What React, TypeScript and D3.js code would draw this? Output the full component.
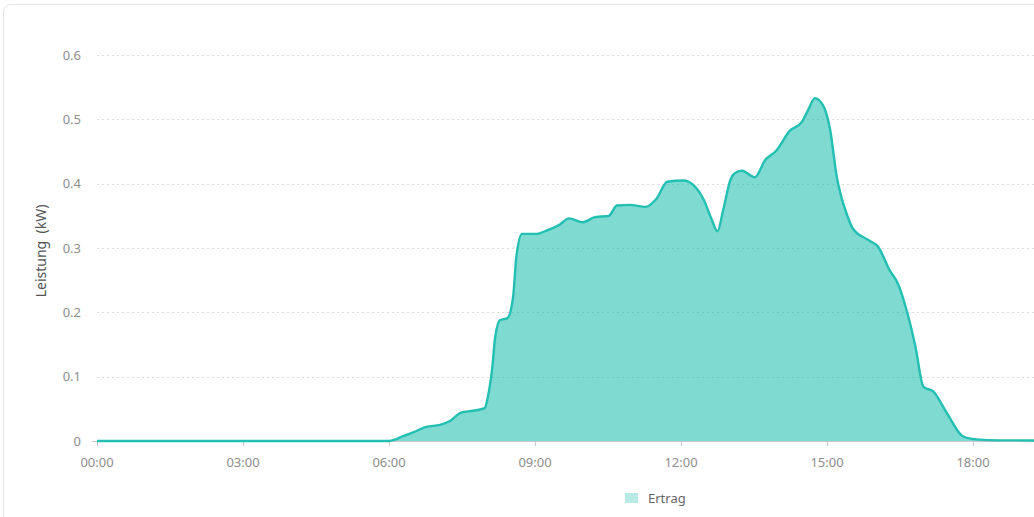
import React, { useEffect, useRef } from "react";
import * as d3 from "d3";

const times: string[] = [
  "00:00", "06:00", "06:07", "06:16", "06:29", "06:46", "07:03", "07:15", "07:29", "07:44",
  "07:58", "08:02", "08:07", "08:11", "08:17", "08:26", "08:33", "08:37", "08:44", "09:02",
  "09:14", "09:30", "09:42", "09:59", "10:14", "10:31", "10:41", "10:57", "11:16", "11:30",
  "11:43", "12:03", "12:15", "12:28", "12:38", "12:45", "12:52", "13:01", "13:06", "13:15",
  "13:31", "13:44", "13:58", "14:14", "14:29", "14:37", "14:45", "14:55", "15:04", "15:12",
  "15:18", "15:24", "15:32", "15:53", "16:03", "16:17", "16:28", "16:38", "16:49", "16:59",
  "17:11", "17:28", "17:48", "18:04", "18:33", "24:00",
];
const ertrag: number[] = [
  0, 0, 0.002, 0.007, 0.013, 0.022, 0.025, 0.031, 0.044, 0.047,
  0.051, 0.069, 0.11, 0.162, 0.188, 0.191, 0.224, 0.286, 0.322, 0.322,
  0.327, 0.336, 0.346, 0.34, 0.348, 0.35, 0.366, 0.367, 0.364, 0.377,
  0.403, 0.405, 0.398, 0.375, 0.344, 0.326, 0.359, 0.406, 0.416, 0.42,
  0.41, 0.437, 0.452, 0.482, 0.496, 0.515, 0.533, 0.522, 0.483, 0.411,
  0.378, 0.354, 0.33, 0.311, 0.302, 0.266, 0.243, 0.204, 0.147, 0.084,
  0.077, 0.043, 0.007, 0.0026, 0.001, 0,
];
const xTickLabels: string[] = ["00:00", "03:00", "06:00", "09:00", "12:00", "15:00", "18:00"];
const yTicks: number[] = [0, 0.1, 0.2, 0.3, 0.4, 0.5, 0.6];
const yTitle = "Leistung  (kW)";
const seriesName = "Ertrag";

const toHours = (s: string) => {
  const [h, m] = s.split(":").map(Number);
  return h + m / 60;
};

export default function App() {
  const ref = useRef<SVGSVGElement>(null);

  useEffect(() => {
    document.body.style.margin = "0";
    document.body.style.overflow = "hidden";
    const svg = d3.select(ref.current);
    svg.selectAll("*").remove();
    const font = "'Noto Sans', sans-serif";

    const x = d3.scaleLinear().domain([0, 24]).range([97, 1265]);
    const y = d3.scaleLinear().domain([0, 0.6]).range([441, 55]);

    // card
    svg.append("rect")
      .attr("x", 3.5).attr("y", 4.5).attr("width", 1200).attr("height", 600)
      .attr("rx", 8).attr("fill", "#fff").attr("stroke", "#e4e4e4");

    // grid
    svg.append("g").selectAll("line").data(yTicks.filter((d) => d > 0)).join("line")
      .attr("x1", 97).attr("x2", 1265)
      .attr("y1", (d) => Math.round(y(d)) + 0.5).attr("y2", (d) => Math.round(y(d)) + 0.5)
      .attr("stroke", "#dcdcdc").attr("stroke-dasharray", "2,3");

    // y labels
    svg.append("g").selectAll("text").data(yTicks).join("text")
      .attr("x", 81).attr("y", (d) => y(d)).attr("dy", "0.35em")
      .attr("text-anchor", "end").attr("font-family", font).attr("font-size", 13)
      .attr("fill", "#8e8e8e").text((d) => (d === 0 ? "0" : d3.format(".1f")(d)));

    const pts = times.map((t, i) => [toHours(t), ertrag[i]] as [number, number]);

    const area = d3.area<[number, number]>()
      .x((d) => x(d[0])).y0(y(0)).y1((d) => y(d[1])).curve(d3.curveMonotoneX);
    const line = d3.line<[number, number]>()
      .x((d) => x(d[0])).y((d) => y(d[1])).curve(d3.curveMonotoneX);

    svg.append("path").attr("d", area(pts)).attr("fill", "#22bfb2").attr("fill-opacity", 0.58);

    // x axis
    svg.append("line").attr("x1", 92).attr("x2", 1265).attr("y1", 441.5).attr("y2", 441.5)
      .attr("stroke", "#c8c8c8");
    svg.append("g").selectAll("line").data(xTickLabels).join("line")
      .attr("x1", (d) => Math.round(x(toHours(d))) + 0.5).attr("x2", (d) => Math.round(x(toHours(d))) + 0.5)
      .attr("y1", 441).attr("y2", 446).attr("stroke", "#c8c8c8");
    svg.append("g").selectAll("text").data(xTickLabels).join("text")
      .attr("x", (d) => x(toHours(d))).attr("y", 462).attr("dy", "0.35em")
      .attr("text-anchor", "middle").attr("font-family", font).attr("font-size", 13)
      .attr("fill", "#8e8e8e").text((d) => d);

    svg.append("path").attr("d", line(pts)).attr("fill", "none")
      .attr("stroke", "#22bfb2").attr("stroke-width", 2.4).attr("stroke-linejoin", "round");

    // y title
    svg.append("text")
      .attr("transform", "translate(41,251) rotate(-90)")
      .attr("text-anchor", "middle").attr("dy", "0.35em")
      .attr("font-family", font).attr("font-size", 14).attr("fill", "#555")
      .style("white-space", "pre").text(yTitle);

    // legend
    svg.append("rect").attr("x", 625).attr("y", 493).attr("width", 13).attr("height", 10)
      .attr("fill", "#22bfb2").attr("fill-opacity", 0.32);
    svg.append("text").attr("x", 648).attr("y", 498).attr("dy", "0.35em")
      .attr("font-family", font).attr("font-size", 13).attr("fill", "#666").text(seriesName);
  }, []);

  return (
    <svg ref={ref} width={1034} height={517}
      style={{ position: "absolute", left: 0, top: 0, display: "block" }} />
  );
}
